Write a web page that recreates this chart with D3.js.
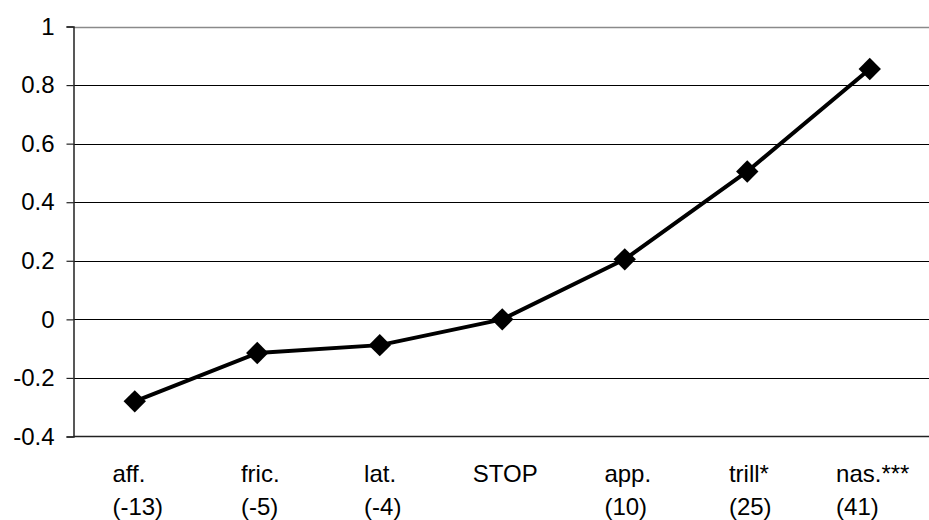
<!DOCTYPE html>
<html><head><meta charset="utf-8">
<script src="https://cdn.jsdelivr.net/npm/d3@7"></script>
<style>body{margin:0;background:#fff}svg{display:block;font-family:Arial,"Liberation Sans",sans-serif}</style>
</head><body>
<svg id="c" width="929" height="520"></svg>
<script>
const categories = ["aff.", "fric.", "lat.", "STOP", "app.", "trill*", "nas.***"];
const counts = ["(-13)", "(-5)", "(-4)", "", "(10)", "(25)", "(41)"];
const values = [-0.28, -0.115, -0.088, 0.0, 0.205, 0.505, 0.855];
const yTicks = [-0.4, -0.2, 0, 0.2, 0.4, 0.6, 0.8, 1];

const svg = d3.select("#c");
const L = 73.5, R = 931, T = 26.5, B = 436.5;
const x = d3.scaleBand().domain(categories).range([L, R]);
const y = d3.scaleLinear().domain([-0.4, 1]).range([B, T]);
const cx = d => x(d) + x.bandwidth() / 2;
const FS = 24;

// gridlines
svg.append("g").selectAll("line").data(yTicks.filter(t => t > -0.4))
  .join("line")
  .attr("x1", L).attr("x2", 929)
  .attr("y1", d => Math.round(y(d)) + 0.5).attr("y2", d => Math.round(y(d)) + 0.5)
  .attr("stroke", d => d === 1 ? "#8a8a8a" : "#000").attr("stroke-width", d => d === 1 ? 1.5 : 1);

// y axis
const ya = d3.axisLeft(y).tickValues(yTicks).tickSize(7).tickPadding(12)
  .tickFormat(d => String(+d.toFixed(1)));
const gy = svg.append("g").attr("transform", `translate(${L},0)`).call(ya);
gy.select(".domain").attr("stroke", "#222").attr("stroke-width", 1.5);
gy.selectAll(".tick line").attr("stroke", "#222").attr("stroke-width", 1.2);
gy.selectAll(".tick text").attr("font-size", FS).attr("fill", "#000")
  .attr("font-family", "Arial, 'Liberation Sans', sans-serif");

// x axis baseline
svg.append("line").attr("x1", L).attr("x2", 929).attr("y1", B).attr("y2", B)
  .attr("stroke", "#222").attr("stroke-width", 1.5);

// category labels (two lines, left aligned block centered under category)
const lab = svg.append("g").attr("font-size", FS).attr("fill", "#000");
categories.forEach((c, i) => {
  const g = lab.append("g");
  const t1 = g.append("text").attr("y", 482).text(c);
  const t2 = g.append("text").attr("y", 515).text(counts[i]);
  const w = Math.max(t1.node().getComputedTextLength(), t2.node().getComputedTextLength());
  let start = cx(c) + 3 - w / 2;
  if (start + w > 927) start = 927 - w;
  g.attr("transform", `translate(${start},0)`);
});

// line
const line = d3.line().x((d, i) => cx(categories[i])).y(d => y(d));
svg.append("path").datum(values).attr("d", line)
  .attr("fill", "none").attr("stroke", "#000").attr("stroke-width", 4)
  .attr("stroke-linejoin", "round");

// markers
const sym = d3.symbol().type(d3.symbolSquare).size(250);
svg.append("g").selectAll("path").data(values).join("path")
  .attr("d", sym)
  .attr("transform", (d, i) => `translate(${cx(categories[i])},${y(d)}) rotate(45)`)
  .attr("fill", "#000");
</script>
</body></html>
